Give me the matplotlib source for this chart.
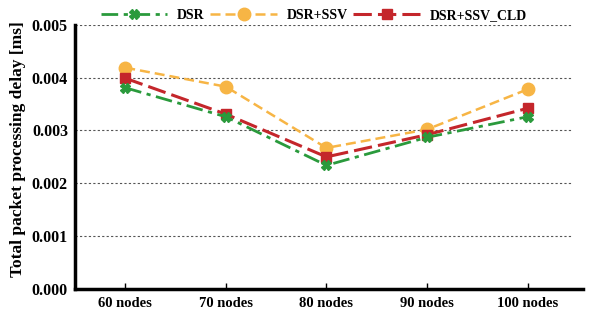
import numpy as np
import matplotlib.pyplot as plt

# x categories
categories = ['60 nodes', '70 nodes', '80 nodes', '90 nodes', '100 nodes']

# total packet processing delay [ms]
dsr = [0.00381, 0.00326, 0.00234, 0.00287, 0.00326]
dsr_ssv = [0.00419, 0.00383, 0.00267, 0.00302, 0.00378]
dsr_ssv_cld = [0.00399, 0.00331, 0.00250, 0.00292, 0.00342]

yticks = [0.000, 0.001, 0.002, 0.003, 0.004, 0.005]

plt.rcParams['font.family'] = ['Liberation Serif', 'DejaVu Serif']
plt.rcParams['font.weight'] = 'bold'

fig = plt.figure(figsize=(5.9, 3.11), dpi=100)
ax = fig.add_axes([0.127, 0.071, 0.861, 0.849])

x = np.arange(len(categories))

ax.plot(x, dsr, color='#2a9a3c', linestyle=(0, (6, 2, 1.5, 2)), linewidth=2,
        marker='X', markersize=7, label='DSR', zorder=3)
ax.plot(x, dsr_ssv, color='#f7b545', linestyle=(0, (4, 2)), linewidth=1.8,
        marker='o', markersize=9, label='DSR+SSV', zorder=2)
ax.plot(x, dsr_ssv_cld, color='#c4262b', linestyle=(0, (6, 2)), linewidth=2.2,
        marker='s', markersize=7, label='DSR+SSV_CLD', zorder=2.5)

ax.set_xlim(-0.5, 4.55)
ax.set_ylim(0, 0.005)
ax.set_xticks(x)
ax.set_xticklabels(categories, fontsize=10.5, fontweight='bold')
ax.set_yticks(yticks)
ax.set_yticklabels([f'{v:.3f}' for v in yticks], fontsize=11.5, fontweight='bold')
ax.set_ylabel('Total packet processing delay [ms]', fontsize=12.5, fontweight='bold')
ax.yaxis.set_label_coords(-0.096, 0.53)

for v in yticks[1:]:
    ax.plot([-0.5, 4.43], [v, v], color='#555555', linestyle=(0, (2, 2)),
            linewidth=0.8, zorder=1)

ax.spines['top'].set_visible(False)
ax.spines['right'].set_visible(False)
ax.spines['left'].set_linewidth(2.5)
ax.spines['bottom'].set_linewidth(2.5)
ax.tick_params(axis='x', direction='in', length=4, width=1, pad=6)
ax.tick_params(axis='y', length=0, pad=5)

ax.legend(loc='lower center', bbox_to_anchor=(0.47, 0.99), ncol=3, frameon=False,
          fontsize=10, handlelength=4.8, handletextpad=0.7, columnspacing=0.4,
          borderaxespad=0)

plt.savefig('out.png', dpi=100)
